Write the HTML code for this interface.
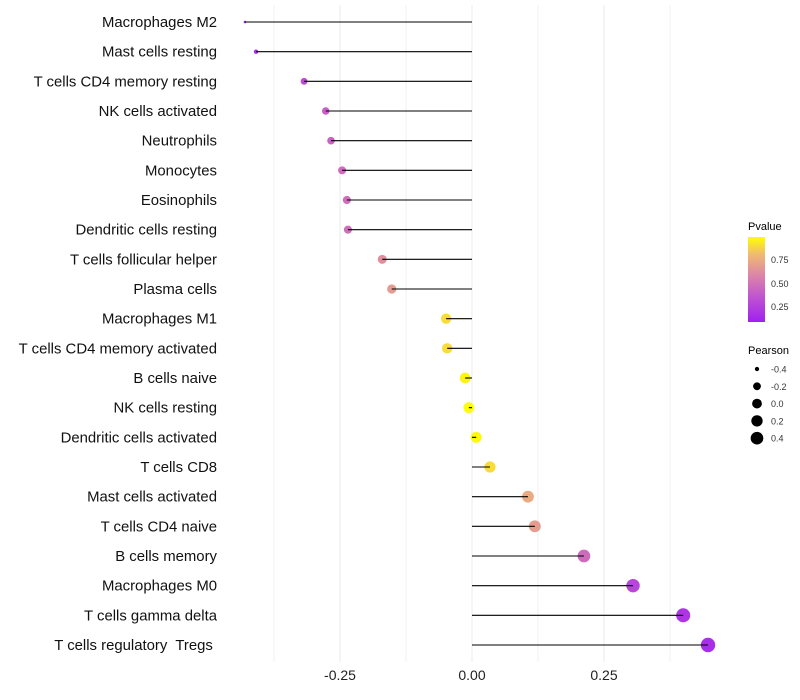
<!DOCTYPE html>
<html><head><meta charset="utf-8"><style>
body{margin:0;background:#fff}
svg{display:block;font-family:"Liberation Sans",sans-serif}
text{white-space:pre}
</style></head><body>
<svg id="c" width="800" height="700">
<defs><linearGradient id="pg" x1="0" y1="1" x2="0" y2="0">
<stop offset="0" stop-color="#a020f0"/><stop offset="0.3" stop-color="#c055d0"/><stop offset="0.55" stop-color="#dc85a8"/><stop offset="0.8" stop-color="#f0bb70"/><stop offset="1" stop-color="#ffff00"/></linearGradient></defs>
<g id="grid"></g>
<g id="marks"></g>
<g id="ylab"></g>
<g id="xlab"></g>
<g>
<text x="748" y="230" font-size="11">Pvalue</text>
<rect x="748" y="237" width="17" height="85" fill="url(#pg)"/>
<text x="771" y="263" font-size="9" fill="#333">0.75</text>
<text x="771" y="287" font-size="9" fill="#333">0.50</text>
<text x="771" y="310" font-size="9" fill="#333">0.25</text>
</g>
<g id="sleg">
<text x="748" y="354" font-size="11">Pearson</text>
</g>
</svg>
<script>
const cells=["Macrophages M2","Mast cells resting","T cells CD4 memory resting","NK cells activated","Neutrophils","Monocytes","Eosinophils","Dendritic cells resting","T cells follicular helper","Plasma cells","Macrophages M1","T cells CD4 memory activated","B cells naive","NK cells resting","Dendritic cells activated","T cells CD8","Mast cells activated","T cells CD4 naive","B cells memory","Macrophages M0","T cells gamma delta","T cells regulatory  Tregs "];
const pearson=[-0.43,-0.409,-0.318,-0.277,-0.267,-0.246,-0.237,-0.235,-0.170,-0.152,-0.049,-0.047,-0.013,-0.006,0.008,0.034,0.106,0.119,0.212,0.305,0.400,0.447];
const pvalue=[0.03,0.08,0.25,0.35,0.37,0.42,0.43,0.43,0.6,0.65,0.9,0.9,0.97,0.99,0.98,0.9,0.72,0.66,0.42,0.22,0.12,0.08];
const xTicks=[-0.25,0,0.25];
const xTickLabels=["-0.25","0.00","0.25"];
const sizeLegend=[-0.4,-0.2,0.0,0.2,0.4];
const NS="http://www.w3.org/2000/svg";
const X=v=>472+v*528;
const Y=i=>22+i*(623/21);
const pMin=Math.min(...pearson),pMax=Math.max(...pearson);
const R=v=>{const t=Math.max(0,Math.min(1,(v-pMin)/(pMax-pMin)));return 1.3+5.9*Math.sqrt(t);};
function col(p){const s=[[0,[160,32,240]],[0.3,[192,85,208]],[0.55,[220,133,168]],[0.8,[240,187,112]],[1,[255,255,0]]];
for(let k=1;k<s.length;k++){if(p<=s[k][0]){const t=(p-s[k-1][0])/(s[k][0]-s[k-1][0]);const a=s[k-1][1],b=s[k][1];return `rgb(${a.map((c,j)=>Math.round(c+(b[j]-c)*t)).join(',')})`;}}return 'rgb(255,255,0)';}
function mk(t,a,p){const e=document.createElementNS(NS,t);for(const k in a)e.setAttribute(k,a[k]);p.appendChild(e);return e;}
const grid=document.getElementById('grid'),marks=document.getElementById('marks'),ylab=document.getElementById('ylab'),xlab=document.getElementById('xlab'),sleg=document.getElementById('sleg');
[-0.375,-0.125,0.125,0.375].forEach(v=>{const l=mk('line',{x1:X(v),x2:X(v),y1:5,y2:662,stroke:'#f2f2f2','stroke-width':1},grid);

});
xTicks.forEach((v,i)=>{const l=mk('line',{x1:X(v),x2:X(v),y1:5,y2:662,stroke:'#ebebeb','stroke-width':1},grid);


const t=mk('text',{x:X(v),y:680,'font-size':14,fill:'#222','text-anchor':'middle'},xlab);t.textContent=xTickLabels[i];

});
cells.forEach((c,i)=>{const y=Y(i);
const d=mk('circle',{cx:X(pearson[i]),cy:y,r:R(pearson[i]),fill:col(pvalue[i])},marks);


const s=mk('line',{x1:X(0),x2:X(pearson[i]),y1:y,y2:y,stroke:'#000','stroke-width':1.1},marks);


const t=mk('text',{x:217,y:y+5,'font-size':14.9,fill:'#111','text-anchor':'end'},ylab);t.textContent=c;

});
sizeLegend.forEach((v,i)=>{const y=369+i*17.3;
const d=mk('circle',{cx:757,cy:y,r:R(v)*0.9,fill:'#000'},sleg);


const t=mk('text',{x:771,y:y+3.5,'font-size':9,fill:'#333'},sleg);t.textContent=v.toFixed(1);

});
</script>
</body></html>
